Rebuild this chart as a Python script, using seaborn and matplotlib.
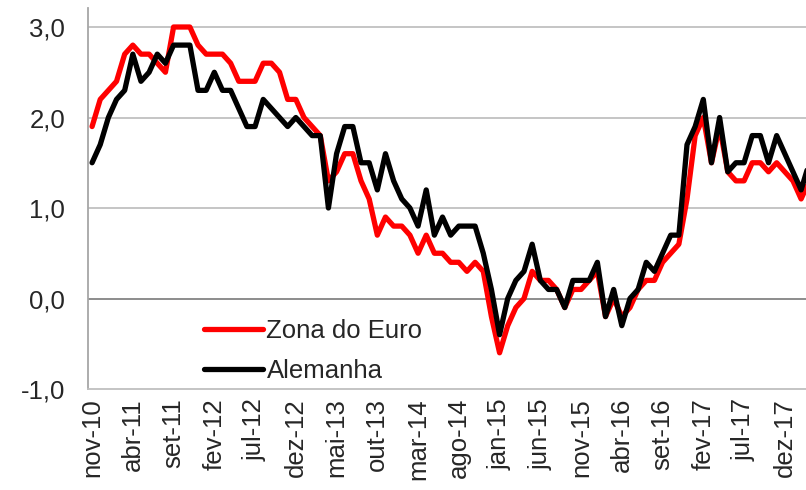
import matplotlib
matplotlib.use("Agg")
import matplotlib.pyplot as plt
import seaborn as sns
import pandas as pd
import numpy as np
from matplotlib.lines import Line2D

# Monthly series from nov-10 to mar-18 (89 months)
zona_euro = [1.9, 2.2, 2.3, 2.4, 2.7, 2.8, 2.7, 2.7, 2.6, 2.5, 3.0, 3.0, 3.0, 2.8,
             2.7, 2.7, 2.7, 2.6, 2.4, 2.4, 2.4, 2.6, 2.6, 2.5, 2.2, 2.2,
             2.0, 1.9, 1.8, 1.3, 1.4, 1.6, 1.6, 1.3, 1.1, 0.7, 0.9, 0.8,
             0.8, 0.7, 0.5, 0.7, 0.5, 0.5, 0.4, 0.4, 0.3, 0.4, 0.3, -0.2,
             -0.6, -0.3, -0.1, 0.0, 0.3, 0.2, 0.2, 0.1, -0.1, 0.1, 0.1, 0.2,
             0.3, -0.2, 0.0, -0.2, -0.1, 0.1, 0.2, 0.2, 0.4, 0.5, 0.6, 1.1,
             1.8, 2.0, 1.5, 1.9, 1.4, 1.3, 1.3, 1.5, 1.5, 1.4, 1.5, 1.4,
             1.3, 1.1, 1.3]
alemanha = [1.5, 1.7, 2.0, 2.2, 2.3, 2.7, 2.4, 2.5, 2.7, 2.6, 2.8, 2.8, 2.8, 2.3,
            2.3, 2.5, 2.3, 2.3, 2.1, 1.9, 1.9, 2.2, 2.1, 2.0, 1.9, 2.0,
            1.9, 1.8, 1.8, 1.0, 1.6, 1.9, 1.9, 1.5, 1.5, 1.2, 1.6, 1.3,
            1.1, 1.0, 0.8, 1.2, 0.7, 0.9, 0.7, 0.8, 0.8, 0.8, 0.5, 0.1,
            -0.4, 0.0, 0.2, 0.3, 0.6, 0.2, 0.1, 0.1, -0.1, 0.2, 0.2, 0.2,
            0.4, -0.2, 0.1, -0.3, 0.0, 0.1, 0.4, 0.3, 0.5, 0.7, 0.7, 1.7,
            1.9, 2.2, 1.5, 2.0, 1.4, 1.5, 1.5, 1.8, 1.8, 1.5, 1.8, 1.6,
            1.4, 1.2, 1.5]
tick_labels = ["nov-10", "abr-11", "set-11", "fev-12", "jul-12", "dez-12",
               "mai-13", "out-13", "mar-14", "ago-14", "jan-15", "jun-15",
               "nov-15", "abr-16", "set-16", "fev-17", "jul-17", "dez-17"]
series_names = ["Zona do Euro", "Alemanha"]
series_colors = ["#FF0000", "#000000"]
y_ticks = [-1.0, 0.0, 1.0, 2.0, 3.0]

df = pd.DataFrame({"mes": np.arange(len(zona_euro)),
                   series_names[0]: zona_euro,
                   series_names[1]: alemanha})
long = df.melt(id_vars="mes", var_name="serie", value_name="valor")

sns.set_style("white")
plt.rcParams["font.family"] = ["Liberation Sans", "DejaVu Sans"]
FS = 18.5

fig = plt.figure(figsize=(8.06, 4.90), dpi=100)
W, H = 806, 490
ax = fig.add_axes([88 / W, 1 - 389 / H, (806 - 88) / W, (389 - 8) / H])

sns.lineplot(data=long, x="mes", y="valor", hue="serie",
             hue_order=series_names, palette=dict(zip(series_names, series_colors)),
             linewidth=3.8, ax=ax, legend=False)

ax.set_xlim(-0.5, 87.6)
ax.set_ylim(-1.0, 3.21)

ax.set_yticks(y_ticks)
ax.set_yticklabels([f"{v:.1f}".replace(".", ",") for v in y_ticks], fontsize=FS)
ax.set_xticks(np.arange(0, 5 * len(tick_labels), 5))
ax.set_xticklabels(tick_labels, rotation=90, fontsize=FS)
ax.tick_params(axis="y", length=0, pad=16.5)
ax.tick_params(axis="x", length=0, pad=6.5)
ax.set_xlabel("")
ax.set_ylabel("")

for v in [1.0, 2.0, 3.0]:
    ax.axhline(v, color="#C0C0C0", linewidth=1.3, zorder=0)
ax.axhline(0.0, color="#8C8C8C", linewidth=1.4, zorder=0)

for s in ["top", "right"]:
    ax.spines[s].set_visible(False)
ax.spines["left"].set_color("#A6A6A6")
ax.spines["left"].set_linewidth(1.3)
ax.spines["bottom"].set_color("#BFBFBF")
ax.spines["bottom"].set_linewidth(1.3)

handles = [Line2D([0], [0], color=c, linewidth=3.8) for c in series_colors]
ax.legend(handles, series_names, loc="upper left", bbox_to_anchor=(0.162, 0.184),
          frameon=False, fontsize=FS, handlelength=2.3, handletextpad=0.12,
          labelspacing=0.63, borderpad=0, borderaxespad=0)

fig.savefig("out.png", dpi=100, facecolor="white")
